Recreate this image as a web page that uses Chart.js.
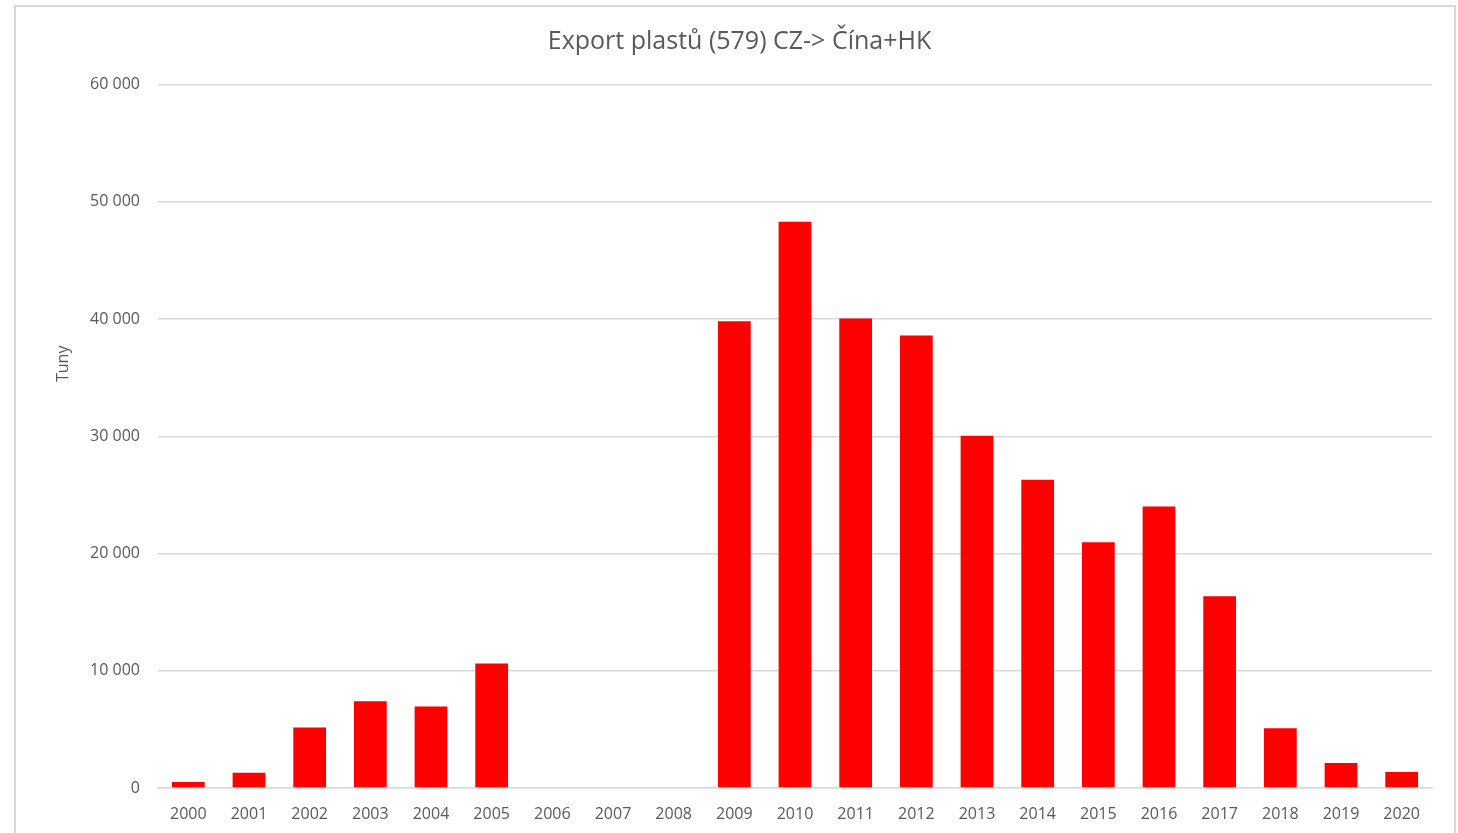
<!DOCTYPE html>
<html lang="cs">
<head>
<meta charset="utf-8">
<title>Export plastů (579) CZ-> Čína+HK</title>
<script src="https://cdn.jsdelivr.net/npm/chart.js@4/dist/chart.umd.min.js"></script>
<style>
  html, body { margin: 0; padding: 0; background: #ffffff; overflow: hidden; }
  #wrap { position: relative; width: 1458px; height: 833px; }
  #frame {
    position: absolute; left: 14px; top: 5px; width: 1438px; height: 900px;
    border: 2px solid #d9d9d9; pointer-events: none;
  }
  #chart { position: absolute; left: 0; top: 0; }
</style>
</head>
<body>
<div id="wrap">
  <div id="frame"></div>
  <canvas id="chart" width="1458" height="833"></canvas>
</div>
<script>
// Roky a exportované množství plastů (tuny)
const years = ['2000','2001','2002','2003','2004','2005','2006','2007','2008','2009','2010',
               '2011','2012','2013','2014','2015','2016','2017','2018','2019','2020'];
const tonnes = [510, 1310, 5150, 7400, 6950, 10620, 0, 0, 0, 39800, 48300,
                40050, 38600, 30050, 26300, 20950, 24000, 16350, 5090, 2130, 1365];
const yTicks = [0, 10000, 20000, 30000, 40000, 50000, 60000];

const titleText = 'Export plastů (579) CZ-> Čína+HK';
const yTitle = 'Tuny';

const textColor = '#595959';
const gridColor = '#d9d9d9';
const fontFamily = "'Open Sans', 'Liberation Sans', sans-serif";

function fmt(v) {
  return String(v).replace(/\B(?=(\d{3})+(?!\d))/g, ' ');
}

// Svislý popisek osy Y, umístěný v horní části osy
const yAxisLabel = {
  id: 'yAxisLabel',
  afterDraw(chart) {
    const ctx = chart.ctx;
    const y = chart.scales.y;
    const cy = y.top + (y.bottom - y.top) * 0.397;
    ctx.save();
    ctx.translate(63, cy);
    ctx.rotate(-Math.PI / 2);
    ctx.fillStyle = textColor;
    ctx.font = '16px ' + fontFamily;
    ctx.textAlign = 'center';
    ctx.textBaseline = 'middle';
    ctx.fillText(yTitle, 0, 0);
    ctx.restore();
  }
};

new Chart(document.getElementById('chart'), {
  type: 'bar',
  data: {
    labels: years,
    datasets: [{
      label: yTitle,
      data: tonnes,
      backgroundColor: '#ff0000',
      borderWidth: 0,
      barPercentage: 0.54,
      categoryPercentage: 1.0
    }]
  },
  plugins: [yAxisLabel],
  options: {
    responsive: false,
    animation: false,
    layout: { padding: { left: 47, right: 26, top: 0, bottom: 0 } },
    plugins: {
      legend: { display: false },
      tooltip: { enabled: false },
      title: {
        display: true,
        text: titleText,
        color: textColor,
        font: { family: fontFamily, size: 25, weight: 'normal' },
        padding: { top: 27, bottom: 27.5 }
      }
    },
    scales: {
      x: {
        grid: { display: false, drawTicks: false },
        border: { display: true, color: gridColor, width: 1.5 },
        ticks: {
          color: textColor,
          font: { family: fontFamily, size: 16 },
          padding: 17,
          maxRotation: 0,
          autoSkip: false
        },
        afterFit(scale) { scale.height = 45; }
      },
      y: {
        min: 0,
        max: 60000,
        afterBuildTicks(scale) { scale.ticks = yTicks.map(v => ({ value: v })); },
        grid: { color: gridColor, lineWidth: 1.5, drawTicks: false },
        border: { display: false },
        ticks: {
          color: textColor,
          font: { family: fontFamily, size: 16 },
          padding: 18,
          callback: v => fmt(v)
        },
        afterFit(scale) { scale.width = 111; }
      }
    }
  }
});
</script>
</body>
</html>
